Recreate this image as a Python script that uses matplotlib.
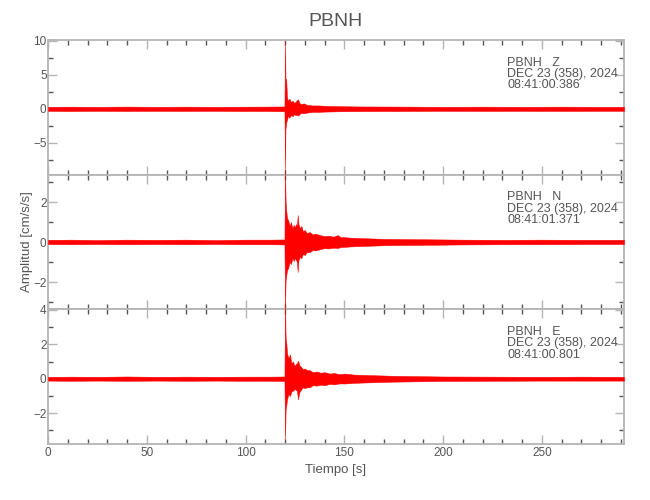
import matplotlib
matplotlib.use("Agg")
import matplotlib.pyplot as plt
from matplotlib.ticker import MultipleLocator

plt.rcParams['font.family'] = ['Liberation Sans', 'DejaVu Sans']

# envelope of each trace (upper / lower extent)
t_z = [0, 10, 25, 40, 55, 70, 85, 100, 110, 119.7, 120.0, 120.2,
       120.6, 121.0, 121.5, 122.2, 123.0, 123.8, 124.5, 125.3, 126.0, 126.6,
       127.2, 128.0, 129.5, 131.0, 132.5, 134.0, 137, 140, 144, 148, 155, 160,
       180, 200, 220, 240, 260, 280, 291.6]
up_z = [0.3, 0.32, 0.3, 0.33, 0.3, 0.32, 0.3, 0.32, 0.33, 0.35, 10.0, 4.5,
        4.3, 1.6, 1.2, 1.5, 1.0, 1.2, 0.9, 1.0, 1.3, 1.4,
        0.9, 0.7, 0.8, 0.6, 0.55, 0.5, 0.5, 0.45, 0.42, 0.4, 0.36, 0.35,
        0.33, 0.3, 0.32, 0.3, 0.32, 0.3, 0.3]
lo_z = [-0.3, -0.32, -0.3, -0.32, -0.3, -0.31, -0.3, -0.32, -0.32, -0.35, -9.1, -3.0,
        -2.0, -1.6, -1.0, -1.3, -0.9, -1.1, -0.8, -0.9, -0.9, -1.0,
        -0.8, -0.6, -0.65, -0.55, -0.5, -0.45, -0.45, -0.4, -0.38, -0.35, -0.34, -0.33,
        -0.32, -0.3, -0.31, -0.3, -0.31, -0.3, -0.3]

t_n = [0, 12, 25, 40, 55, 70, 85, 100, 112,
       119.7, 120.0, 120.3, 120.6, 121.0, 121.6, 122.3, 123.0, 123.7, 124.4,
       125.0, 125.6, 126.0, 126.4, 126.8, 127.5, 128.3, 129.0, 130.0, 131.0,
       132.5, 134, 135.5, 137.5, 140, 142, 144.5, 146.7, 148, 150.5, 153, 158, 170,
       190, 210, 230, 250, 270, 291.6]
up_n = [0.11, 0.12, 0.1, 0.12, 0.11, 0.12, 0.1, 0.12, 0.12,
        0.13, 3.6, 2.0, 1.6, 1.2, 1.1, 0.8, 1.0, 0.7, 0.85,
        0.75, 0.9, 0.8, 1.35, 0.9, 0.7, 0.8, 0.55, 0.6, 0.45,
        0.5, 0.38, 0.42, 0.35, 0.3, 0.32, 0.27, 0.35, 0.25, 0.24, 0.22, 0.2, 0.16,
        0.14, 0.12, 0.11, 0.12, 0.11, 0.11]
lo_n = [-0.1, -0.11, -0.1, -0.11, -0.1, -0.11, -0.1, -0.11, -0.11,
        -0.12, -3.25, -1.9, -1.7, -1.4, -1.3, -1.0, -1.1, -0.8, -0.95,
        -0.8, -0.9, -1.0, -1.5, -0.9, -0.75, -0.8, -0.6, -0.65, -0.5,
        -0.5, -0.4, -0.42, -0.36, -0.3, -0.32, -0.28, -0.3, -0.25, -0.24, -0.22, -0.2, -0.16,
        -0.14, -0.12, -0.11, -0.11, -0.1, -0.1]

t_e = [0, 12, 25, 40, 55, 70, 85, 100, 112,
       119.7, 120.0, 120.3, 120.7, 121.0, 121.7, 122.5, 123.2, 124.0, 124.8,
       125.5, 126.0, 126.6, 127.2, 128.0, 129.0, 130.0, 131.0, 132.5, 134,
       136, 138, 140, 142.5, 145, 147.5, 150, 155, 160, 175,
       200, 225, 250, 270, 291.6]
up_e = [0.11, 0.12, 0.11, 0.13, 0.11, 0.12, 0.11, 0.12, 0.12,
        0.13, 4.5, 2.4, 2.0, 1.5, 1.2, 1.4, 0.9, 1.0, 0.75,
        0.85, 0.9, 1.05, 0.8, 0.7, 0.55, 0.6, 0.5, 0.5, 0.38,
        0.42, 0.35, 0.38, 0.3, 0.33, 0.26, 0.3, 0.24, 0.22, 0.17,
        0.13, 0.12, 0.11, 0.12, 0.11]
lo_e = [-0.11, -0.12, -0.11, -0.12, -0.11, -0.12, -0.11, -0.12, -0.12,
        -0.13, -3.55, -1.8, -1.5, -1.2, -0.9, -1.0, -0.75, -0.7, -0.6,
        -0.65, -0.7, -1.2, -0.8, -0.65, -0.5, -0.55, -0.5, -0.5, -0.38,
        -0.4, -0.35, -0.38, -0.3, -0.33, -0.27, -0.28, -0.24, -0.22, -0.17,
        -0.13, -0.12, -0.11, -0.11, -0.11]

comps = ["Z", "N", "E"]
times = ["08:41:00.386", "08:41:01.371", "08:41:00.801"]
date_txt = "DEC 23 (358), 2024"
ylims = [(-9.66, 10.1), (-3.37, 3.37), (-3.8, 4.03)]
major = [5, 2, 2]
minor = [2.5, 1, 1]

traces = [(t_z, up_z, lo_z), (t_n, up_n, lo_n), (t_e, up_e, lo_e)]

txtc = '#555555'
spc = '#b4b4b4'

fig = plt.figure(figsize=(6.5, 5), dpi=100)
left = 48/650.; width = 576/650.
ph = 134.7/500.
axes = []
for i in range(3):
    bottom = 1 - (40 + ph*500*(i+1))/500.
    ax = fig.add_axes([left, bottom, width, ph])
    axes.append(ax)
    t, up, lo = traces[i]
    ax.fill_between(t, lo, up, color='#ff0000', lw=0.35, clip_on=False, zorder=3)
    ax.set_xlim(0, 291.6)
    ax.set_ylim(ylims[i])
    ax.xaxis.set_major_locator(MultipleLocator(50))
    ax.xaxis.set_minor_locator(MultipleLocator(10))
    ax.yaxis.set_major_locator(MultipleLocator(major[i]))
    ax.yaxis.set_minor_locator(MultipleLocator(minor[i]))
    ax.tick_params(which='both', direction='in', top=True, right=True,
                   labelsize=8.5, labelcolor=txtc, pad=2)
    ax.tick_params(axis='y', pad=1)
    ax.tick_params(which='major', length=6.5, width=1.0, color=spc)
    ax.tick_params(which='minor', length=3.6, width=1.0, color='#555555')
    for s in ax.spines.values():
        s.set_color(spc)
        s.set_linewidth(1.3)
    if i < 2:
        ax.set_xticklabels([])
    ax.text(0.797, 1 - 22.5/134.7, "PBNH   " + comps[i], transform=ax.transAxes,
            fontsize=9, color=txtc, va='center', ha='left')
    ax.text(0.797, 1 - 34/134.7, date_txt, transform=ax.transAxes,
            fontsize=9, color=txtc, va='center', ha='left')
    ax.text(0.797, 1 - 45.5/134.7, times[i], transform=ax.transAxes,
            fontsize=9, color=txtc, va='center', ha='left')

fig.text(336/650., 1 - 21/500., "PBNH", ha='center', va='center', fontsize=14, color=txtc)
fig.text(27/650., 1 - 242/500., "Amplitud [cm/s/s]", rotation=90, ha='center', va='center',
         fontsize=9.5, color=txtc)
fig.text(336/650., 1 - 470/500., "Tiempo [s]", ha='center', va='center', fontsize=9.5, color=txtc)

fig.savefig("out.png", dpi=100)
